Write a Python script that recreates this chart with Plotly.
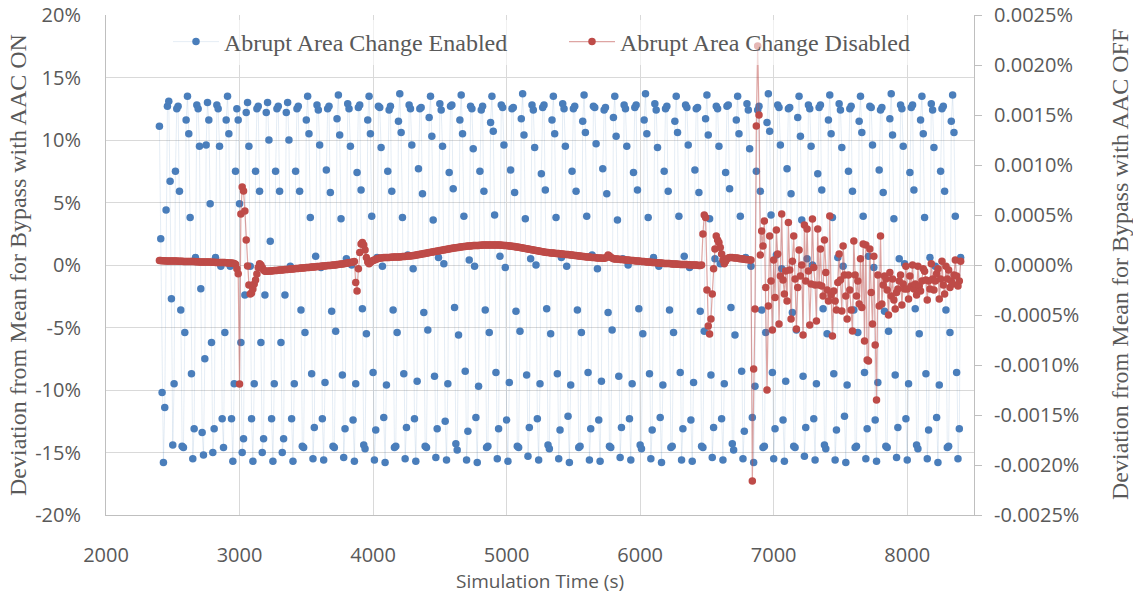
import numpy as np
import plotly.graph_objects as go

# Simulation output times (s): every 10 s from 2400 s to 8400 s
TIME_START_S = 2400
TIME_STEP_S = 10
TIME_END_S = 8400

# Deviation from mean bypass flow with Abrupt Area Change enabled (%), left axis
ON_DEV_START = [
    11.1, 2.1, -10.2, -15.8, -11.4, 4.4, 12.7, 13.1, 6.7, -2.7, -14.4,
    -9.5, 7.5, 12.5, 12.7, 5.9, -3.6, -14.5, -14.6, -5.4, 11.6, 13.5, 10.5, 3.8, -8.7, -15.5, -13.1, 0.6, 12.8, 12.5, 9.5,
    -1.9, -13.4, -15.2, -7.5, 9.6, 13.0, 11.6, 4.9, -6.2, -15.0,
    -13.1, 0.6, 12.8, 12.5, 9.5, -0.1, -12.3,
    -14.6, -5.4, 11.6, 13.5, 10.5,
    -0.1, -12.3, -15.7, -9.5, 7.5, 12.5,
    11.6, 4.9, -6.2, -15.0, -13.9, -2.4, 12.2, 13.0,
    9.5, -0.1, -12.3, -15.7, -9.5, 7.5, 12.5, 12.7, 5.9,
    -6.2, -15.0, -13.9, -2.4, 12.2, 13.0, 10.0, 1.9,
    -12.3, -15.7, -9.5, 7.5, 12.5, 12.7, 5.9,
    -6.2, -15.0, -13.9, -2.4, 12.2, 13.0, 10.0,
    -0.1, -12.3, -15.7, -9.5, 7.5, 12.5, 12.7, 5.9, -3.6, -14.5, -14.6, -5.4, 11.6, 13.5, 10.5, 3.8, -8.7,
]
ON_DEV_CYCLES = [
    [-15.5, -13.0, 0.7, 12.8, 12.4, 9.6, -0.2, -12.3, -15.6, -9.4, 7.6, 12.5, 12.7, 5.8, -3.7, -14.5, -14.6, -5.3, 11.7, 13.6, 10.4, 3.7, -8.8],
    [-15.4, -13.1, 0.5, 12.9, 12.5, 9.5, 0.0, -12.4, -15.7, -9.5, 7.4, 12.6, 12.8, 6.0, -3.5, -14.4, -14.7, -5.5, 11.6, 13.5, 10.5, 3.9, -8.6],
    [-15.6, -13.2, 0.6, 12.7, 12.6, 9.4, -0.1, -12.2, -15.8, -9.6, 7.5, 12.4, 12.7, 5.9, -3.6, -14.6, -14.5, -5.4, 11.5, 13.7, 10.6, 3.8, -8.7],
    [-15.5, -13.0, 0.8, 12.8, 12.5, 9.6, -0.3, -12.3, -15.7, -9.3, 7.7, 12.5, 12.6, 5.7, -3.8, -14.5, -14.6, -5.2, 11.8, 13.5, 10.3, 3.6, -8.9],
    [-15.4, -13.1, 0.6, 12.9, 12.4, 9.5, 0.1, -12.5, -15.6, -9.5, 7.4, 12.7, 12.8, 6.1, -3.4, -14.3, -14.8, -5.6, 11.6, 13.6, 10.5, 3.9, -8.5],
    [-15.6, -13.3, 0.4, 12.7, 12.5, 9.3, -0.1, -12.2, -15.8, -9.7, 7.5, 12.4, 12.7, 5.9, -3.6, -14.6, -14.5, -5.4, 11.4, 13.5, 10.7, 4.0, -8.6],
    [-15.5, -13.1, 0.7, 12.8, 12.6, 9.6, -0.2, -12.4, -15.7, -9.4, 7.6, 12.5, 12.6, 5.8, -3.7, -14.5, -14.6, -5.3, 11.7, 13.7, 10.4, 3.7, -8.8],
    [-15.3, -13.0, 0.5, 12.8, 12.4, 9.4, 0.0, -12.3, -15.6, -9.5, 7.3, 12.6, 12.8, 6.0, -3.5, -14.4, -14.7, -5.5, 11.6, 13.5, 10.5, 3.8, -8.7],
    [-15.5, -13.2, 0.6, 12.9, 12.5, 9.5, -0.1, -12.1, -15.8, -9.6, 7.5, 12.5, 12.7, 5.9, -3.6, -14.6, -14.5, -5.4, 11.5, 13.6, 10.6, 3.9, -8.6],
    [-15.6, -13.1, 0.8, 12.7, 12.6, 9.7, -0.3, -12.4, -15.7, -9.3, 7.7, 12.4, 12.6, 5.7, -3.8, -14.5, -14.6, -5.2, 11.8, 13.5, 10.3, 3.6, -8.9],
    [-15.4, -13.0, 0.5, 12.8, 12.5, 9.5, 0.0, -12.3, -15.6, -9.5, 7.4, 12.6, 12.8, 6.0, -3.5, -14.4, -14.7, -5.5, 11.6, 13.7, 10.5, 3.8, -8.7],
    [-15.5, -13.2, 0.6, 12.9, 12.4, 9.4, -0.1, -12.2, -15.8, -9.6, 7.5, 12.5, 12.7, 5.9, -3.6, -14.6, -14.5, -5.4, 11.5, 13.5, 10.6, 3.9, -8.6],
    [-15.6, -13.1, 0.7, 12.8, 12.6, 9.6, -0.2, -12.4, -15.7, -9.4, 7.6, 12.5, 12.6, 5.8, -3.7, -14.5, -14.6, -5.3, 11.7, 13.6, 10.4, 3.7, -8.8],
    [-15.4, -13.0, 0.5, 12.7, 12.5, 9.5, 0.1, -12.3, -15.6, -9.5, 7.4, 12.7, 12.8, 6.1, -3.4, -14.3, -14.8, -5.6, 11.6, 13.5, 10.5, 3.9, -8.5],
    [-15.5, -13.3, 0.6, 12.9, 12.4, 9.3, -0.1, -12.2, -15.8, -9.7, 7.5, 12.4, 12.7, 5.9, -3.6, -14.6, -14.5, -5.4, 11.4, 13.7, 10.7, 4.0, -8.6],
    [-15.5, -13.1, 0.8, 12.8, 12.6, 9.6, -0.3, -12.4, -15.7, -9.3, 7.7, 12.5, 12.6, 5.7, -3.8, -14.5, -14.6, -5.2, 11.8, 13.5, 10.3, 3.6, -8.9],
    [-15.3, -13.0, 0.5, 12.8, 12.5, 9.5, 0.0, -12.3, -15.6, -9.5, 7.3, 12.6, 12.8, 6.0, -3.5, -14.4, -14.7, -5.5, 11.6, 13.6, 10.5, 3.8, -8.7],
    [-15.6, -13.2, 0.6, 12.9, 12.4, 9.4, -0.1, -12.1, -15.8, -9.6, 7.5, 12.5, 12.7, 5.9, -3.6, -14.6, -14.5, -5.4, 11.5, 13.5, 10.6, 3.9, -8.6],
    [-15.5, -13.1, 0.7, 12.7, 12.6, 9.6, -0.2, -12.4, -15.7, -9.4, 7.6, 12.4, 12.6, 5.8, -3.7, -14.5, -14.6, -5.3, 11.7, 13.7, 10.4, 3.7, -8.8],
    [-15.4, -13.0, 0.5, 12.8, 12.5, 9.5, 0.1, -12.3, -15.6, -9.5, 7.4, 12.6, 12.8, 6.0, -3.5, -14.4, -14.7, -5.5, 11.6, 13.5, 10.5, 3.8, -8.7],
    [-15.5, -13.2, 0.6, 12.9, 12.4, 9.4, -0.1, -12.2, -15.8, -9.6, 7.5, 12.5, 12.7, 5.9, -3.6, -14.6, -14.5, -5.4, 11.5, 13.6, 10.6, 3.9, -8.6],
]
ON_DEV_END = [-15.5, -13.1, 0.6]

# Deviation from mean bypass flow with Abrupt Area Change disabled, in units of 0.0001 %, right axis
OFF_DEV_E4_2400_2990 = [
    0.44, 0.44, 0.43, 0.43, 0.43, 0.41, 0.41, 0.41, 0.4, 0.4,
    0.4, 0.39, 0.39, 0.39, 0.38, 0.38, 0.38, 0.38, 0.36, 0.36,
    0.36, 0.35, 0.35, 0.35, 0.34, 0.34, 0.34, 0.33, 0.33, 0.33,
    0.31, 0.31, 0.31, 0.3, 0.3, 0.3, 0.29, 0.29, 0.29, 0.28,
    0.28, 0.28, 0.26, 0.26, 0.26, 0.25, 0.25, 0.25, 0.24, 0.24,
    0.23, 0.23, 0.21, 0.2, 0.19, 0.18, 0.15, 0.08, -0.38, -0.88,
]
OFF_DEV_E4_3000_3190 = [
    -11.9, 5.1, 7.8, 7.4, 5.4, 2.5, -0.1, -2.0, -2.9, -2.8,
    -2.4, -1.9, -1.5, -0.9, -0.25, 0.13, 0.0, -0.25, -0.5, -0.63,
]
OFF_DEV_E4_3200_3860 = [
    -0.63, -0.63, -0.61, -0.6, -0.59, -0.58, -0.56, -0.55, -0.54, -0.53,
    -0.51, -0.5, -0.49, -0.48, -0.46, -0.45, -0.44, -0.43, -0.41, -0.4,
    -0.39, -0.38, -0.36, -0.35, -0.34, -0.33, -0.31, -0.3, -0.29, -0.28,
    -0.26, -0.25, -0.24, -0.23, -0.21, -0.2, -0.19, -0.18, -0.16, -0.15,
    -0.14, -0.13, -0.11, -0.1, -0.09, -0.08, -0.06, -0.05, -0.04, -0.03,
    -0.01, 0.0, 0.01, 0.04, 0.05, 0.08, 0.09, 0.11, 0.13, 0.15,
    0.18, 0.2, 0.23, 0.25, 0.28, 0.31, 0.34,
]
OFF_DEV_E4_3870_3990 = [-1.75, -2.6, -0.38, 1.25, 2.1, 2.25, 2.0, 1.5, 0.75, 0.31, 0.13, 0.25, 0.38]
OFF_DEV_E4_4000_6450 = [
    0.44, 0.5, 0.56, 0.63, 0.66, 0.69, 0.71, 0.73, 0.74, 0.75,
    0.75, 0.76, 0.76, 0.78, 0.78, 0.79, 0.79, 0.8, 0.8, 0.81,
    0.81, 0.83, 0.84, 0.85, 0.86, 0.88, 0.89, 0.9, 0.91, 0.93,
    0.94, 0.96, 0.99, 1.01, 1.04, 1.06, 1.09, 1.11, 1.14, 1.16,
    1.19, 1.21, 1.24, 1.26, 1.29, 1.31, 1.34, 1.36, 1.39, 1.41,
    1.44, 1.46, 1.49, 1.51, 1.54, 1.56, 1.59, 1.61, 1.64, 1.66,
    1.69, 1.71, 1.73, 1.75, 1.76, 1.79, 1.8, 1.83, 1.84, 1.86,
    1.88, 1.89, 1.9, 1.91, 1.93, 1.94, 1.95, 1.95, 1.96, 1.96,
    1.98, 1.98, 1.99, 1.99, 1.99, 2.0, 2.0, 2.0, 2.0, 2.0,
    2.0, 2.0, 2.0, 2.0, 1.99, 1.99, 1.98, 1.98, 1.96, 1.95,
    1.94, 1.93, 1.91, 1.89, 1.88, 1.85, 1.84, 1.81, 1.79, 1.78,
    1.75, 1.73, 1.7, 1.68, 1.65, 1.63, 1.6, 1.58, 1.55, 1.53,
    1.5, 1.48, 1.45, 1.43, 1.4, 1.38, 1.35, 1.33, 1.3, 1.28,
    1.25, 1.24, 1.23, 1.21, 1.2, 1.19, 1.18, 1.16, 1.15, 1.14,
    1.13, 1.11, 1.1, 1.08, 1.06, 1.05, 1.04, 1.03, 1.0, 0.99,
    0.98, 0.96, 0.95, 0.93, 0.91, 0.9, 0.88, 0.86, 0.85, 0.83,
    0.81, 0.8, 0.79, 0.78, 0.76, 0.75, 0.74, 0.73, 0.71, 0.7,
    0.69, 0.69, 0.68, 0.68, 0.7, 0.78, 1.0, 0.9, 0.78, 0.69,
    0.63, 0.61, 0.6, 0.59, 0.58, 0.56, 0.55, 0.54, 0.53, 0.51,
    0.5, 0.49, 0.48, 0.46, 0.45, 0.44, 0.43, 0.41, 0.4, 0.39,
    0.38, 0.36, 0.35, 0.34, 0.33, 0.31, 0.3, 0.29, 0.28, 0.26,
    0.25, 0.24, 0.23, 0.23, 0.21, 0.2, 0.19, 0.18, 0.16, 0.16,
    0.15, 0.14, 0.14, 0.13, 0.11, 0.11, 0.1, 0.09, 0.08, 0.08,
    0.06, 0.06, 0.05, 0.05, 0.04, 0.04, 0.03, 0.03, 0.01, 0.01,
    0.0, 0.0, -0.01, -0.03, -0.04, -0.06,
]
OFF_DEV_E4_6460_6830 = [
    0.0, 3.1, 5.0, 4.75, -2.5, -6.1, -6.9, -5.4, -2.9, -0.38,
    1.6, 2.9, 2.5, 2.25, 1.75, 1.1, 0.5, 0.13, 0.38, 0.63,
    0.69, 0.75, 0.75, 0.75, 0.73, 0.7, 0.69, 0.69, 0.65, 0.63,
    0.63, 0.6, 0.58, 0.56, 0.55, 0.53, 0.5, 0.5,
]
OFF_DEV_E4_6840_8400 = [
    -21.6, -10.4, -4.4, 13.9, 21.9, 15.0, 1.0, 3.4, 1.9, 4.4,
    -2.25, -12.5, -4.1, 2.9, -1.6, -6.5, 0.5, -3.25, 3.5, 1.1,
    -5.9, -1.1, 5.1, -1.5, -2.9, -0.6, -3.6, 4.25, -0.5, -5.4,
    0.38, 2.9, -1.4, -6.4, -2.25, 1.5, -1.1, 0.0, -7.0,
    4.0, -1.6, 3.6, -0.6, -6.0, -1.9, 4.6, -0.25, -2.0, -5.6,
    3.6, -2.0, 1.6, -2.1, -3.1, 2.5, -0.75, -2.5, -3.6, 4.9,
    -3.0, -7.1, -2.6, -3.6, -4.5, -1.75, 1.1, -1.5, -4.6, 1.9,
    -1.0, -3.1, -5.4, -1.0, -2.5, -4.5, -6.6, 2.4, -1.0, -3.1,
    -1.6, -3.9, 0.63, -4.25, 2.1, -7.6, 2.0, -9.5, -9.6, 1.6,
    -2.75, -5.9, 0.88, -8.0, -13.5,
    -1.0, -4.1, 2.9, -3.9, -2.0, -1.1, -1.4, -2.5, -5.0, -0.75,
    -3.1, -1.4, -3.5, -4.4, -2.75, -2.4, -1.6, -1.0, -4.0, -1.9,
    -2.4, -0.13, -2.4, -3.4, -1.1, -2.1, 0.0, -2.4, -1.9, -3.0,
    -0.13, -2.1, -2.6, -1.6, -0.38, -0.63, -1.5, -3.5, -1.6, -2.4,
    0.13, -1.4, -2.5, -1.6, -0.88, -0.38, -3.4, -1.4, 0.38, -2.0,
    -2.9, -0.13, -1.4, -0.5, -2.25, -1.6, -1.9, -1.0, 0.5, -1.1,
    -2.1, -1.6, 0.38,
]

SERIES_NAMES = ["Abrupt Area Change Enabled", "Abrupt Area Change Disabled"]

LEFT_TICK_VALS = [-20, -15, -10, -5, 0, 5, 10, 15, 20]
LEFT_TICK_TEXT = ["-20%", "-15%", "-10%", "-5%", "0%", "5%", "10%", "15%", "20%"]
RIGHT_TICK_VALS = [-0.0025, -0.002, -0.0015, -0.001, -0.0005, 0.0, 0.0005, 0.001, 0.0015, 0.002, 0.0025]
RIGHT_TICK_TEXT = ["-0.0025%", "-0.0020%", "-0.0015%", "-0.0010%", "-0.0005%", "0.0000%",
                   "0.0005%", "0.0010%", "0.0015%", "0.0020%", "0.0025%"]
X_TICK_VALS = [2000, 3000, 4000, 5000, 6000, 7000, 8000]

# ---- assemble series ----
time_s = np.arange(TIME_START_S, TIME_END_S + TIME_STEP_S, TIME_STEP_S)
on_dev = np.array(ON_DEV_START + [v for row in ON_DEV_CYCLES for v in row] + ON_DEV_END)
off_dev = np.array(OFF_DEV_E4_2400_2990 + OFF_DEV_E4_3000_3190 + OFF_DEV_E4_3200_3860
                   + OFF_DEV_E4_3870_3990 + OFF_DEV_E4_4000_6450 + OFF_DEV_E4_6460_6830
                   + OFF_DEV_E4_6840_8400) * 1e-4
assert len(on_dev) == len(time_s), (len(on_dev), len(time_s))
assert len(off_dev) == len(time_s), (len(off_dev), len(time_s))

BLUE = "#4A7EBB"
RED = "#BE4B48"
GRID = "#D9D9D9"
AXIS = "#BFBFBF"
TEXT = "#595959"
SANS = "Open Sans, Roboto, sans-serif"
SERIF = "Liberation Serif, Times New Roman, serif"

# plot area in pixels: left 106, right 974, top 15, bottom 515
PLOT_L, PLOT_R, PLOT_T, PLOT_B = 106, 974, 15, 515
PW, PH = PLOT_R - PLOT_L, PLOT_B - PLOT_T


def px_x(px):
    return (px - PLOT_L) / PW


def px_y(py):
    return (PLOT_B - py) / PH


fig = go.Figure()
fig.add_trace(go.Scatter(
    x=time_s, y=on_dev, name=SERIES_NAMES[0], mode="lines+markers",
    line=dict(color="rgba(74,126,187,0.14)", width=1),
    marker=dict(color=BLUE, size=7.5, line=dict(width=0)),
    yaxis="y", legend="legend",
))
fig.add_trace(go.Scatter(
    x=time_s, y=off_dev, name=SERIES_NAMES[1], mode="lines+markers",
    line=dict(color="rgba(190,75,72,0.5)", width=1.2),
    marker=dict(color=RED, size=7.5, line=dict(width=0)),
    yaxis="y2", legend="legend2",
))

legend_common = dict(
    orientation="h", xanchor="left", yanchor="middle",
    font=dict(family=SERIF, size=24, color=TEXT),
    bgcolor="rgba(255,255,255,0.6)", borderwidth=0,
    itemwidth=46,
)

fig.update_layout(
    width=1133, height=600,
    margin=dict(l=PLOT_L, r=1133 - PLOT_R, t=PLOT_T, b=600 - PLOT_B, autoexpand=False),
    paper_bgcolor="white", plot_bgcolor="white",
    showlegend=True,
    legend=dict(x=px_x(168), y=px_y(42), **legend_common),
    legend2=dict(x=px_x(564), y=px_y(42), **legend_common),
    xaxis=dict(
        range=[2000, 8500], tickvals=X_TICK_VALS,
        showgrid=True, gridcolor=GRID, gridwidth=1,
        showline=True, linecolor=AXIS, linewidth=1,
        ticks="", ticklabelstandoff=22,
        tickfont=dict(family=SANS, size=20, color=TEXT),
        zeroline=False,
    ),
    yaxis=dict(
        range=[-20, 20], tickvals=LEFT_TICK_VALS, ticktext=LEFT_TICK_TEXT,
        showgrid=True, gridcolor=GRID, gridwidth=1,
        showline=True, linecolor=AXIS, linewidth=1,
        ticks="", ticklabelstandoff=20,
        tickfont=dict(family=SANS, size=20, color=TEXT),
        zeroline=False,
    ),
    yaxis2=dict(
        range=[-0.0025, 0.0025], tickvals=RIGHT_TICK_VALS, ticktext=RIGHT_TICK_TEXT,
        overlaying="y", side="right",
        showgrid=False, zeroline=False,
        showline=True, linecolor=AXIS, linewidth=1,
        ticks="outside", ticklen=7, tickcolor=AXIS,
        ticklabelstandoff=8,
        tickfont=dict(family=SANS, size=20, color=TEXT),
    ),
    annotations=[
        dict(text="Deviation from Mean for Bypass with AAC ON", textangle=-90,
             xref="paper", yref="paper", x=px_x(18), y=0.5,
             xanchor="center", yanchor="middle", showarrow=False,
             font=dict(family=SERIF, size=24, color=TEXT)),
        dict(text="Deviation from Mean for Bypass with AAC OFF", textangle=-90,
             xref="paper", yref="paper", x=px_x(1120), y=0.5,
             xanchor="center", yanchor="middle", showarrow=False,
             font=dict(family=SERIF, size=24, color=TEXT)),
        dict(text="Simulation Time (s)",
             xref="paper", yref="paper", x=0.5, y=px_y(581),
             xanchor="center", yanchor="middle", showarrow=False,
             font=dict(family=SANS, size=19, color=TEXT)),
    ],
)

fig.write_html("out.html")
